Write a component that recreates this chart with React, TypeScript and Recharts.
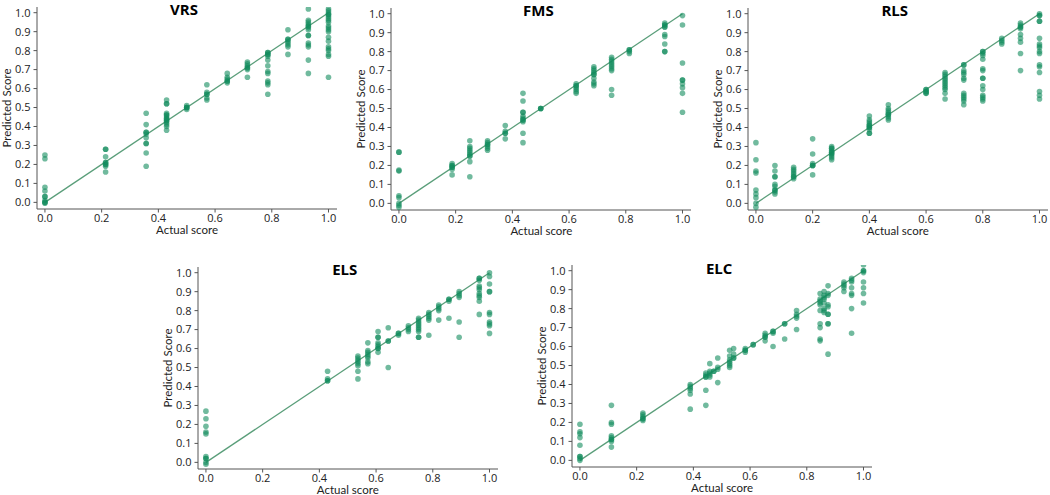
import React from 'react';
import { ScatterChart, Scatter, XAxis, YAxis } from 'recharts';

// each panel: actual-score columns and the predicted scores read at each column
const vrsX = [0, 0.214, 0.357, 0.429, 0.5, 0.571, 0.643, 0.714, 0.786, 0.857, 0.929, 1];
const vrsY = [
  [0.25, 0.23, 0.08, 0.06, 0.03, 0.03, 0.01, 0.0, -0.005, 0.0],
  [0.28, 0.28, 0.24, 0.21, 0.2, 0.19, 0.21, 0.16, 0.2],
  [0.47, 0.41, 0.37, 0.36, 0.34, 0.31, 0.31, 0.26, 0.19, 0.37],
  [0.54, 0.52, 0.52, 0.47, 0.46, 0.45, 0.44, 0.43, 0.43, 0.42, 0.41, 0.4, 0.38, 0.44, 0.46],
  [0.51, 0.5, 0.5, 0.49, 0.5],
  [0.62, 0.58, 0.57, 0.57, 0.55, 0.54],
  [0.68, 0.66, 0.65, 0.64, 0.64, 0.63],
  [0.74, 0.73, 0.72, 0.71, 0.71, 0.7, 0.66],
  [0.79, 0.79, 0.78, 0.78, 0.77, 0.75, 0.72, 0.69, 0.68, 0.64, 0.63, 0.62, 0.57],
  [0.91, 0.86, 0.86, 0.85, 0.84, 0.83, 0.82, 0.78],
  [1.02, 0.96, 0.95, 0.94, 0.93, 0.93, 0.92, 0.91, 0.88, 0.88, 0.84, 0.83, 0.82, 0.75, 0.68],
  [1.02, 1.01, 1.0, 0.99, 0.99, 0.98, 0.97, 0.96, 0.95, 0.93, 0.92, 0.91, 0.9, 0.87, 0.85, 0.82, 0.81, 0.8, 0.78, 0.77, 0.66],
];

const fmsX = [0, 0.1875, 0.25, 0.3125, 0.375, 0.4375, 0.5, 0.625, 0.6875, 0.75, 0.8125, 0.9375, 1];
const fmsY = [
  [0.27, 0.27, 0.17, 0.175, 0.04, 0.03, 0.0, -0.01, -0.02],
  [0.21, 0.2, 0.2, 0.19, 0.19, 0.18, 0.15],
  [0.33, 0.3, 0.29, 0.28, 0.27, 0.26, 0.25, 0.25, 0.22, 0.14],
  [0.33, 0.32, 0.31, 0.31, 0.3, 0.29, 0.28],
  [0.41, 0.38, 0.37, 0.37, 0.34],
  [0.58, 0.54, 0.48, 0.48, 0.46, 0.45, 0.44, 0.43, 0.44, 0.37, 0.32],
  [0.5, 0.5, 0.5],
  [0.63, 0.62, 0.62, 0.61, 0.6, 0.59, 0.58],
  [0.72, 0.71, 0.7, 0.69, 0.68, 0.68, 0.66, 0.64, 0.63, 0.62],
  [0.77, 0.76, 0.75, 0.74, 0.73, 0.72, 0.71, 0.7, 0.6, 0.57],
  [0.81, 0.81, 0.8, 0.79],
  [0.95, 0.94, 0.94, 0.93, 0.93, 0.89, 0.88, 0.84, 0.8, 0.8],
  [0.99, 0.94, 0.74, 0.65, 0.65, 0.63, 0.61, 0.58, 0.48],
];

const rlsX = [0, 0.067, 0.133, 0.2, 0.267, 0.4, 0.467, 0.6, 0.667, 0.733, 0.8, 0.867, 0.933, 1];
const rlsY = [
  [0.32, 0.23, 0.17, 0.16, 0.07, 0.05, 0.03, 0.0, -0.02],
  [0.2, 0.17, 0.14, 0.14, 0.1, 0.09, 0.07, 0.07, 0.06, 0.05],
  [0.19, 0.18, 0.17, 0.16, 0.15, 0.14, 0.14, 0.13],
  [0.34, 0.26, 0.21, 0.2, 0.2, 0.2, 0.15],
  [0.3, 0.29, 0.29, 0.28, 0.27, 0.27, 0.26, 0.26, 0.25, 0.24, 0.23],
  [0.46, 0.44, 0.43, 0.42, 0.41, 0.41, 0.4, 0.4, 0.39, 0.37, 0.37],
  [0.52, 0.5, 0.49, 0.48, 0.47, 0.47, 0.46, 0.45, 0.44],
  [0.6, 0.6, 0.59, 0.59, 0.58, 0.58],
  [0.69, 0.68, 0.67, 0.66, 0.65, 0.64, 0.63, 0.62, 0.61, 0.6, 0.58, 0.55],
  [0.73, 0.73, 0.7, 0.69, 0.68, 0.66, 0.65, 0.58, 0.57, 0.56, 0.55, 0.54, 0.52],
  [0.8, 0.8, 0.79, 0.78, 0.76, 0.71, 0.7, 0.66, 0.66, 0.62, 0.6, 0.57, 0.56, 0.55, 0.54],
  [0.87, 0.86, 0.85, 0.84],
  [0.95, 0.94, 0.93, 0.93, 0.92, 0.89, 0.87, 0.85, 0.79, 0.7],
  [1.0, 0.99, 0.99, 0.96, 0.96, 0.87, 0.84, 0.83, 0.82, 0.8, 0.79, 0.73, 0.72, 0.69, 0.59, 0.57, 0.55],
];

const elsX = [0, 0.429, 0.536, 0.571, 0.607, 0.643, 0.679, 0.714, 0.75, 0.786, 0.821, 0.857, 0.893, 0.964, 1];
const elsY = [
  [0.27, 0.23, 0.19, 0.16, 0.15, 0.03, 0.02, 0.02, 0.0, -0.01],
  [0.48, 0.44, 0.43, 0.43],
  [0.56, 0.55, 0.54, 0.53, 0.52, 0.51, 0.48, 0.44],
  [0.63, 0.59, 0.58, 0.57, 0.56, 0.55, 0.53, 0.52],
  [0.69, 0.66, 0.66, 0.63, 0.62, 0.61, 0.6, 0.6, 0.58],
  [0.71, 0.64, 0.64, 0.5],
  [0.68, 0.68, 0.67],
  [0.72, 0.71, 0.7, 0.69],
  [0.76, 0.75, 0.74, 0.73, 0.72, 0.71, 0.7, 0.69, 0.66, 0.66],
  [0.79, 0.78, 0.77, 0.76, 0.75, 0.67],
  [0.83, 0.82, 0.81, 0.8, 0.75],
  [0.86, 0.86, 0.85, 0.76],
  [0.9, 0.89, 0.88, 0.87, 0.74, 0.66],
  [0.97, 0.97, 0.96, 0.93, 0.92, 0.91, 0.89, 0.88, 0.87, 0.85, 0.78],
  [1.0, 0.98, 0.94, 0.9, 0.9, 0.79, 0.78, 0.74, 0.73, 0.72, 0.68],
];

const elcX = [0, 0.111, 0.222, 0.389, 0.444, 0.458, 0.472, 0.486, 0.528, 0.542, 0.583, 0.611, 0.653, 0.681, 0.722, 0.764, 0.847, 0.861, 0.875, 0.931, 0.958, 1];
const elcY = [
  [0.19, 0.15, 0.14, 0.12, 0.08, 0.02, 0.02, 0.01, 0.0],
  [0.29, 0.2, 0.19, 0.13, 0.12, 0.11, 0.11, 0.1, 0.07],
  [0.25, 0.24, 0.23, 0.22, 0.22, 0.21],
  [0.4, 0.39, 0.38, 0.37, 0.35, 0.27],
  [0.46, 0.45, 0.44, 0.44, 0.37, 0.29],
  [0.51, 0.47, 0.46, 0.45, 0.44],
  [0.47, 0.47],
  [0.54, 0.49, 0.48, 0.41],
  [0.58, 0.55, 0.53, 0.52, 0.51, 0.5, 0.49],
  [0.59, 0.56, 0.54, 0.54],
  [0.59, 0.58, 0.58, 0.57],
  [0.61, 0.61],
  [0.67, 0.66, 0.65, 0.65, 0.63],
  [0.68, 0.68, 0.67, 0.6],
  [0.72, 0.72, 0.64],
  [0.79, 0.77, 0.76, 0.75, 0.69],
  [0.88, 0.85, 0.84, 0.83, 0.82, 0.79, 0.72, 0.7, 0.64, 0.63],
  [0.89, 0.87, 0.86, 0.85, 0.83, 0.8, 0.79, 0.78],
  [0.92, 0.88, 0.87, 0.82, 0.81, 0.77, 0.77, 0.72, 0.72, 0.56],
  [0.94, 0.93, 0.92, 0.91, 0.89],
  [0.96, 0.95, 0.94, 0.91, 0.88, 0.87, 0.8, 0.67],
  [1.03, 1.0, 1.0, 0.99, 0.94, 0.91, 0.88, 0.83],
];

const xTicks = [0, 0.2, 0.4, 0.6, 0.8, 1.0];
const yTicks = [0, 0.1, 0.2, 0.3, 0.4, 0.5, 0.6, 0.7, 0.8, 0.9, 1.0];
const diagonal = [{ x: 0, y: 0 }, { x: 1, y: 1 }];

const PLOT_W = 300;
const PLOT_H = 202;
const Y_AXIS_W = 50;
const X_AXIS_H = 30;
const TOP = 10;
const RIGHT = 10;

const tickStyle = { fontSize: 11, fill: '#222', fontFamily: 'Open Sans, sans-serif' };
const labelFont = { fontFamily: 'Lato, sans-serif', fontSize: 11.5, lineHeight: '10px', color: '#222' };

function Panel({ title, xs, ys, left, top }: { title: string; xs: number[]; ys: number[][]; left: number; top: number }) {
  const points = xs.flatMap((x, i) => ys[i].map((y) => ({ x, y })));
  const w = Y_AXIS_W + PLOT_W + RIGHT;
  const h = TOP + PLOT_H + X_AXIS_H;
  return (
    <>
      <div style={{ position: 'absolute', left: left - Y_AXIS_W, top: top - TOP }}>
        <ScatterChart width={w} height={h} margin={{ top: TOP, right: RIGHT, left: 0, bottom: 0 }}>
          <XAxis
            type="number"
            dataKey="x"
            domain={[-0.028, 1.03]}
            ticks={xTicks}
            allowDataOverflow
            tickFormatter={(v) => v.toFixed(1)}
            tick={tickStyle}
            tickSize={3.5}
            tickMargin={1.5}
            height={X_AXIS_H}
            stroke="#555"
          />
          <YAxis
            type="number"
            dataKey="y"
            domain={[-0.035, 1.03]}
            ticks={yTicks}
            allowDataOverflow
            tickFormatter={(v) => v.toFixed(1)}
            tick={tickStyle}
            tickSize={3.5}
            tickMargin={3}
            width={Y_AXIS_W}
            stroke="#555"
          />
          <Scatter
            data={diagonal}
            line={{ stroke: '#5a9e7a', strokeWidth: 1.3 }}
            shape={() => <g />}
            isAnimationActive={false}
          />
          <Scatter
            data={points}
            shape={(p: any) => <circle cx={p.cx} cy={p.cy} r={2.8} fill="#128c5e" fillOpacity={0.6} />}
            isAnimationActive={false}
          />
        </ScatterChart>
      </div>
      <div style={{ position: 'absolute', left: left - 3, top: top - 4.8, width: PLOT_W, textAlign: 'center', fontFamily: 'Open Sans, sans-serif', fontWeight: 700, fontSize: 15, lineHeight: '14px', color: '#000' }}>
        {title}
      </div>
      <div style={{ ...labelFont, position: 'absolute', left, top: top + PLOT_H + 16, width: PLOT_W, textAlign: 'center' }}>
        Actual score
      </div>
      <div style={{ ...labelFont, position: 'absolute', left: left - 30 - 60, top: top + PLOT_H / 2 - 5, width: 120, textAlign: 'center', transform: 'rotate(-90deg)' }}>
        Predicted Score
      </div>
    </>
  );
}

export default function App() {
  return (
    <div style={{ position: 'absolute', left: 0, top: 0, width: 1050, height: 495, background: '#fff', overflow: 'hidden' }}>
      <Panel title="VRS" xs={vrsX} ys={vrsY} left={37} top={6.6} />
      <Panel title="FMS" xs={fmsX} ys={fmsY} left={391.4} top={7.6} />
      <Panel title="RLS" xs={rlsX} ys={rlsY} left={747.8} top={7.6} />
      <Panel title="ELS" xs={elsX} ys={elsY} left={197.8} top={267} />
      <Panel title="ELC" xs={elcX} ys={elcY} left={572.1} top={265.3} />
    </div>
  );
}
